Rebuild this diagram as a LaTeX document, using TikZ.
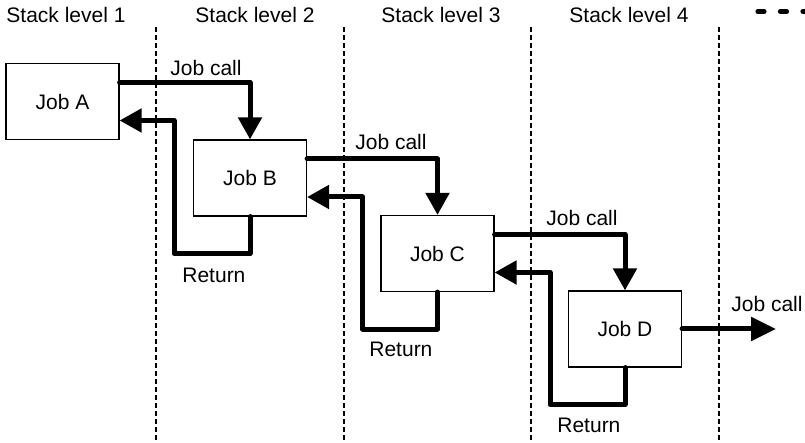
\documentclass[tikz,border=0pt]{standalone}
\usepackage{fontspec}
\setmainfont{Liberation Sans}
\usetikzlibrary{arrows.meta}

\begin{document}
\begin{tikzpicture}[x=0.5pt,y=-0.5pt,font=\fontsize{10.5pt}{12pt}\selectfont,
  job/.style={draw,line width=0.6pt,minimum width=56.5pt,minimum height=38pt,inner sep=0pt},
  call/.style={line width=2.5pt,line join=round,line cap=round,-{Triangle[length=11pt,width=11.5pt]}},
  sep/.style={line width=0.65pt,dash pattern=on 2.5pt off 1.5pt},
  lbl/.style={anchor=base west,inner sep=0pt}]
  \useasboundingbox (0,0) rectangle (805,443);
  \foreach \x in {156,344,531,719} \draw[sep] (\x,27) -- (\x,443);
  \node[anchor=base,inner sep=0pt] (s1) at (66,23) {Stack level 1};
  \node[anchor=base,inner sep=0pt] (s2) at (255,23) {Stack level 2};
  \node[anchor=base,inner sep=0pt] (s3) at (441,23) {Stack level 3};
  \node[anchor=base,inner sep=0pt] (s4) at (629,23) {Stack level 4};
  \draw[line width=2.6pt,line cap=round,dash pattern=on 3pt off 8.25pt] (758,11.5) -- (812,11.5);
  \node[job] (a) at (62.5,101.5) {Job A};
  \node[job] (b) at (250,178) {Job B};
  \node[job] (c) at (437.5,253.5) {Job C};
  \node[job] (d) at (625,329) {Job D};
  \coordinate (out) at (776,329);
  \draw[call] ([yshift=9.5pt]a.east) -| (b.north);
  \draw[call] ([yshift=9.5pt]b.east) -| (c.north);
  \draw[call] ([yshift=9.5pt]c.east) -| (d.north);
  \draw[call,-{Triangle[length=12.5pt,width=11.5pt]}] (d.east) -- (out);
  \draw[call] (b.south) -- ++(0,37) -- ++(-76,0) |- ([yshift=-9.5pt]a.east);
  \draw[call] (c.south) -- ++(0,37) -- ++(-75,0) |- ([yshift=-9.5pt]b.east);
  \draw[call] (d.south) -- ++(0,37) -- ++(-75,0) |- ([yshift=-9.5pt]c.east);
  \node[lbl] (l1) at (170,76) {Job call};
  \node[lbl] (l2) at (355,150) {Job call};
  \node[lbl] (l3) at (546,226) {Job call};
  \node[lbl] (l4) at (731,312) {Job call};
  \node[lbl] (r1) at (182,283) {Return};
  \node[lbl] (r2) at (369,357) {Return};
  \node[lbl] (r3) at (557,433) {Return};
\end{tikzpicture}
\end{document}
